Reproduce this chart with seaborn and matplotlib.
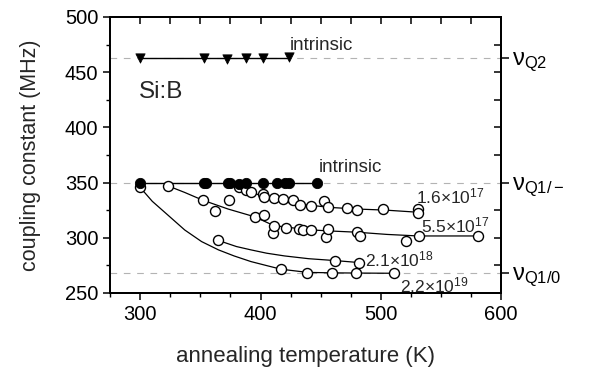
import numpy as np
import pandas as pd
import seaborn as sns
import matplotlib.pyplot as plt
from matplotlib.ticker import MultipleLocator, FixedLocator, NullLocator

# intrinsic, nu_Q2 (triangles)
tri_T = [300, 353, 372, 388, 402, 424]
tri_Q = [462.5, 462.5, 462.0, 462.5, 462.5, 463.5]

# intrinsic, nu_Q1/- (filled circles)
fill_T = [300, 353, 355, 373, 375, 382, 388, 402, 414, 420, 424, 447]
fill_Q = [349.5, 349.5, 349.5, 349.5, 349.5, 349.0, 349.5, 349.5, 349.5, 349.5, 349.5, 349.5]

# 1.6e17
s1_T = [382, 388, 392, 402, 403, 411, 419, 427, 433, 442, 453, 456, 472, 480, 502, 531, 531]
s1_Q = [346, 343, 341, 340, 337, 336, 335, 334, 330, 329, 333, 328, 327, 325, 326, 326, 322]
s1_fitT = [382, 392, 403, 415, 430, 445, 457, 480, 504, 532]
s1_fitQ = [346, 341, 337.5, 333.5, 330.5, 329, 327.5, 326, 325, 323]

# 5.5e17
s2_T = [323, 352, 362, 374, 395, 403, 410, 411, 421, 432, 435, 442, 454, 456, 480, 483, 521, 532, 581]
s2_Q = [347, 334, 324, 334, 319, 321, 304, 311, 309, 308, 307, 307, 301, 308, 305.5, 301.5, 297, 301.5, 301.5]
s2_fitT = [323, 337, 352, 373, 395, 411, 430, 443, 460, 480, 505, 531, 581]
s2_fitQ = [347, 341, 334, 326, 319, 311, 308.5, 307, 306, 305, 303, 301.6, 301.6]

# 2.1e18
s3_T = [365, 462, 482]
s3_Q = [297.5, 279, 277]
s3_fitT = [365, 380, 392, 405, 420, 440, 462, 482]
s3_fitQ = [297.5, 292, 289, 286, 283.5, 281, 279.3, 277.5]

# 2.2e19
s4_T = [300, 417, 439, 459, 479, 511]
s4_Q = [345.5, 271.7, 268.4, 268.4, 268, 268]
s4_fitT = [300, 310, 323, 337, 351, 365, 378, 392, 406, 417, 439, 460, 480, 512]
s4_fitQ = [345.5, 333, 320.5, 307, 296.5, 289, 283.5, 278.4, 274.5, 271.5, 268.6, 268.2, 268, 267.8]

nu_vals = [462.9, 350, 268]
nu_labels = [r"ν$_{\rm Q2}$", r"ν$_{\rm Q1/-}$", r"ν$_{\rm Q1/0}$"]
top_ticks = list(range(275, 601, 25))
right_ticks = list(range(275, 500, 25))

sns.set_theme(style="ticks")
plt.rcParams["font.family"] = ["Liberation Sans", "DejaVu Sans"]
plt.rcParams["mathtext.fontset"] = "custom"
plt.rcParams["mathtext.rm"] = "Liberation Sans"
plt.rcParams["mathtext.it"] = "Liberation Sans:italic"

fig = plt.figure(figsize=(5.89, 3.68), dpi=100)
ax = fig.add_axes([0.187, 0.204, 0.664, 0.750])

for v in nu_vals:
    ax.axhline(v, color="0.7", lw=0.8, ls=(0, (6, 6)), zorder=1)

fits = [(s1_fitT, s1_fitQ), (s2_fitT, s2_fitQ), (s3_fitT, s3_fitQ), (s4_fitT, s4_fitQ)]
for ft, fq in fits:
    sns.lineplot(x=ft, y=fq, ax=ax, color="black", lw=0.9, sort=False, estimator=None, zorder=2)

sns.lineplot(x=[300, 424], y=[462.5, 462.5], ax=ax, color="black", lw=1.0, zorder=2)
sns.lineplot(x=[300, 447], y=[349.5, 349.5], ax=ax, color="black", lw=1.0, zorder=2)

for st, sq in [(s1_T, s1_Q), (s2_T, s2_Q), (s3_T, s3_Q), (s4_T, s4_Q)]:
    ax.scatter(st, sq, s=52, facecolor="white", edgecolor="black", linewidth=1.0, zorder=3)

sns.scatterplot(x=fill_T, y=fill_Q, ax=ax, s=55, color="black", edgecolor="black", zorder=4)
sns.scatterplot(x=tri_T, y=tri_Q, ax=ax, s=45, marker="v", color="black", edgecolor="black", zorder=4)

ax.set_xlim(275, 600)
ax.set_ylim(250, 500)
ax.xaxis.set_major_locator(MultipleLocator(100))
ax.xaxis.set_minor_locator(MultipleLocator(25))
ax.yaxis.set_major_locator(MultipleLocator(50))
ax.yaxis.set_minor_locator(MultipleLocator(25))
ax.tick_params(which="major", direction="out", length=5, width=1.1, labelsize=14.5, colors="black")
ax.tick_params(which="minor", direction="out", length=3, width=1.0, colors="black")
for sp in ax.spines.values():
    sp.set_linewidth(1.2)
    sp.set_color("black")

# top: inward ticks only
axt = ax.twiny()
axt.set_xlim(ax.get_xlim())
axt.xaxis.set_major_locator(FixedLocator(top_ticks))
axt.xaxis.set_minor_locator(NullLocator())
axt.tick_params(axis="x", which="major", direction="in", length=5, width=1.1, colors="black",
                top=True, bottom=False, labeltop=False, labelbottom=False)

# right: inward ticks every 25 MHz, outward ticks at the nu values
axr = ax.twinx()
axr.set_ylim(ax.get_ylim())
axr.yaxis.set_major_locator(FixedLocator(nu_vals))
axr.set_yticklabels(nu_labels)
axr.yaxis.set_minor_locator(FixedLocator(right_ticks))
axr.tick_params(axis="y", which="major", direction="out", length=6, width=1.1, labelsize=17, pad=2,
                colors="black", right=True, left=False, labelright=True, labelleft=False)
axr.tick_params(axis="y", which="minor", direction="in", length=5, width=1.1, colors="black",
                right=True, left=False)
for a in (axt, axr):
    for sp in a.spines.values():
        sp.set_linewidth(1.2)
        sp.set_color("black")

ax.set_xlabel("annealing temperature (K)", fontsize=16, labelpad=16)
ax.set_ylabel("coupling constant (MHz)", fontsize=15.5, labelpad=17)

ax.text(424, 474, "intrinsic", fontsize=13.5, ha="left", va="center")
ax.text(448, 364, "intrinsic", fontsize=13.5, ha="left", va="center")
ax.text(299, 432, "Si:B", fontsize=17.5, ha="left", va="center")
ax.text(529, 337, "1.6×10$^{17}$", fontsize=12.5, ha="left", va="center")
ax.text(533, 311, "5.5×10$^{17}$", fontsize=12.5, ha="left", va="center")
ax.text(487, 280, "2.1×10$^{18}$", fontsize=12.5, ha="left", va="center")
ax.text(516, 257, "2.2×10$^{19}$", fontsize=12.5, ha="left", va="center")

plt.savefig("out.png", dpi=100)
